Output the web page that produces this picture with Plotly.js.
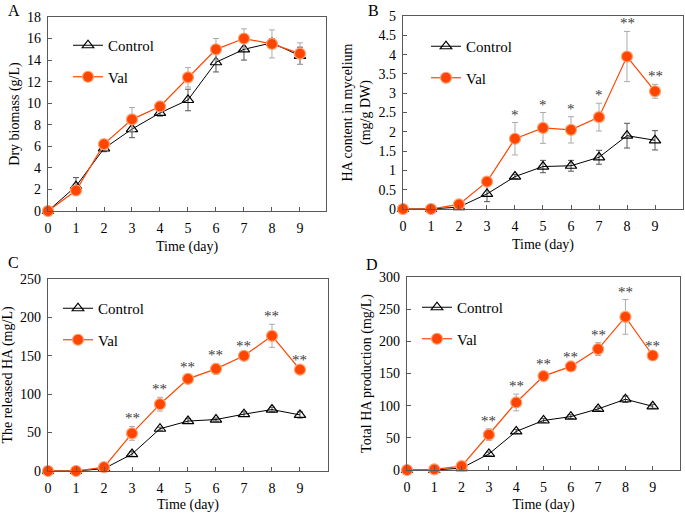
<!DOCTYPE html>
<html>
<head>
<meta charset="utf-8">
<script src="https://cdn.plot.ly/plotly-3.0.1.min.js"></script>
<style>
  html, body { margin: 0; padding: 0; background: #fff; }
  #chart { width: 685px; height: 513px; }
</style>
</head>
<body>
<div id="chart"></div>
<script>
// --- Data ---
const days = [0, 1, 2, 3, 4, 5, 6, 7, 8, 9];

// A: dry biomass (g/L)
const biomassControl = [0, 2.3, 5.8, 7.6, 9.1, 10.3, 13.8, 15.0, 15.6, 14.4];
const biomassControlErr = [0, 0.8, 0.3, 0.8, 0.3, 1.0, 0.9, 1.0, 0.4, 0.8];
const biomassVal = [0, 1.9, 6.2, 8.5, 9.7, 12.4, 15.0, 16.0, 15.5, 14.6];
const biomassValErr = [0, 0.3, 0.4, 1.1, 0.3, 0.9, 1.0, 0.9, 1.3, 1.0];

// B: HA content in mycelium (mg/g DW)
const myceliumControl = [0, 0, 0.05, 0.39, 0.84, 1.1, 1.12, 1.34, 1.9, 1.78];
const myceliumControlErr = [0, 0, 0.02, 0.2, 0.05, 0.16, 0.14, 0.18, 0.32, 0.25];
const myceliumVal = [0, 0, 0.12, 0.71, 1.82, 2.1, 2.05, 2.38, 3.95, 3.05];
const myceliumValErr = [0, 0, 0.03, 0.05, 0.42, 0.4, 0.34, 0.36, 0.65, 0.18];
const myceliumStars = ['', '', '', '', '*', '*', '*', '*', '**', '**'];

// C: released HA (mg/L)
const releasedControl = [0, 0, 3, 22, 55, 65, 67, 74, 80, 73];
const releasedControlErr = [0, 0, 1, 3, 2, 3, 2, 3, 3, 4];
const releasedVal = [0, 0, 5, 49, 87, 120, 133, 150, 176, 132];
const releasedValErr = [0, 0, 1, 9, 9, 5, 7, 3, 15, 2];
const releasedStars = ['', '', '', '**', '**', '**', '**', '**', '**', '**'];

// D: total HA production (mg/L)
const totalControl = [0, 0, 3, 25, 60, 77, 83, 95, 110, 99];
const totalControlErr = [0, 0, 1, 3, 3, 3, 3, 3, 5, 3];
const totalVal = [0, 1, 6, 55, 105, 146, 161, 188, 238, 178];
const totalValErr = [0, 0, 1, 9, 13, 6, 3, 10, 27, 2];
const totalStars = ['', '', '', '**', '**', '**', '**', '**', '**', '**'];

// --- Styles ---
const FONT = 'Liberation Serif, Times New Roman, serif';
const VAL_COLOR = '#FF4500';
const ERR_COLOR = '#ABABAB';
const AXIS_COLOR = '#595959';

function controlTrace(y, err, ax, legend) {
    return {
        x: days, y: y, xaxis: 'x' + ax, yaxis: 'y' + ax,
        name: 'Control', legend: legend, legendgroup: 'c',
        type: 'scatter', mode: 'lines+markers', cliponaxis: false,
        line: { color: '#000', width: 1 },
        marker: { symbol: 'triangle-up-open', size: 10, color: '#000', line: { width: 1.2 } },
        error_y: { type: 'data', array: err, visible: true, color: '#555', thickness: 1, width: 3 }
    };
}

function valTrace(y, err, ax, legend) {
    return {
        x: days, y: y, xaxis: 'x' + ax, yaxis: 'y' + ax,
        name: 'Val', legend: legend, legendgroup: 'v',
        type: 'scatter', mode: 'lines+markers', cliponaxis: false,
        line: { color: VAL_COLOR, width: 1.2 },
        marker: { symbol: 'circle', size: 11, color: VAL_COLOR, line: { color: '#FFA070', width: 1.2 } },
        error_y: { type: 'data', array: err, visible: true, color: ERR_COLOR, thickness: 1, width: 3 }
    };
}

function xAxis(domain, range, anchor) {
    return {
        domain: domain, range: range, anchor: anchor,
        tickvals: days, ticks: 'inside', ticklen: 4, tickcolor: AXIS_COLOR,
        ticklabelstandoff: 4,
        showline: true, linecolor: AXIS_COLOR, linewidth: 1.2, mirror: true,
        showgrid: false, zeroline: false,
        tickfont: { family: FONT, size: 14, color: '#000' },
        title: { text: 'Time (day)', font: { family: FONT, size: 14, color: '#000' }, standoff: 6 }
    };
}

function yAxis(domain, range, dtick, title, anchor) {
    return {
        domain: domain, range: range, dtick: dtick, anchor: anchor,
        ticks: 'inside', ticklen: 4, tickcolor: AXIS_COLOR,
        ticklabelstandoff: 3,
        showline: true, linecolor: AXIS_COLOR, linewidth: 1.2, mirror: true,
        showgrid: false, zeroline: false,
        tickfont: { family: FONT, size: 14, color: '#000' },
        title: { text: title, font: { family: FONT, size: 14, color: '#000' }, standoff: 4 }
    };
}

function legendBox(x, y) {
    return {
        x: x, y: y, xanchor: 'left', yanchor: 'top',
        bgcolor: 'rgba(0,0,0,0)', borderwidth: 0,
        font: { family: FONT, size: 15, color: '#000' },
        tracegroupgap: 9, itemwidth: 30
    };
}

function starNotes(stars, vals, errs, ax) {
    return stars.map((s, i) => ({
        x: days[i], y: vals[i] + errs[i], xref: 'x' + ax, yref: 'y' + ax,
        text: s, showarrow: false, yanchor: 'bottom', yshift: -2,
        font: { family: FONT, size: 15, color: '#404040' }
    })).filter(a => a.text);
}

function panelLabel(text, x, y) {
    return {
        text: text, x: x, y: y, xref: 'paper', yref: 'paper',
        xanchor: 'left', yanchor: 'top', showarrow: false,
        font: { family: FONT, size: 16, color: '#000' }
    };
}

const traces = [
    controlTrace(biomassControl, biomassControlErr, '', 'legend'),
    valTrace(biomassVal, biomassValErr, '', 'legend'),
    controlTrace(myceliumControl, myceliumControlErr, '2', 'legend2'),
    valTrace(myceliumVal, myceliumValErr, '2', 'legend2'),
    controlTrace(releasedControl, releasedControlErr, '3', 'legend3'),
    valTrace(releasedVal, releasedValErr, '3', 'legend3'),
    controlTrace(totalControl, totalControlErr, '4', 'legend4'),
    valTrace(totalVal, totalValErr, '4', 'legend4')
];

const layout = {
    width: 685, height: 513,
    margin: { l: 0, r: 0, t: 0, b: 0 },
    paper_bgcolor: '#fff', plot_bgcolor: '#fff',
    showlegend: true,
    xaxis: xAxis([0.0701, 0.4759], [0, 9.93], 'y'),
    yaxis: yAxis([0.5887, 0.9669], [0, 18], 2, 'Dry biomass (g/L)', 'x'),
    xaxis2: xAxis([0.5883, 0.9971], [0, 10], 'y2'),
    yaxis2: yAxis([0.5926, 0.9688], [0, 5], 0.5, 'HA content in mycelium<br>(mg/g DW)', 'x2'),
    xaxis3: xAxis([0.0701, 0.4788], [0, 10], 'y3'),
    yaxis3: yAxis([0.0819, 0.4561], [0, 250], 50, 'The released HA (mg/L)', 'x3'),
    xaxis4: xAxis([0.5942, 0.9927], [0, 10], 'y4'),
    yaxis4: yAxis([0.0838, 0.4600], [0, 300], 50, 'Total HA production (mg/L)', 'x4'),
    legend: legendBox(68 / 685, 1 - 29 / 513),
    legend2: legendBox(426 / 685, 1 - 30 / 513),
    legend3: legendBox(58 / 685, 1 - 292 / 513),
    legend4: legendBox(417 / 685, 1 - 291 / 513),
    annotations: [
        panelLabel('A', 6 / 685, 1),
        panelLabel('B', 366 / 685, 1),
        panelLabel('C', 6 / 685, 1 - 252 / 513),
        panelLabel('D', 364 / 685, 1 - 254 / 513),
        ...starNotes(myceliumStars, myceliumVal, myceliumValErr, '2'),
        ...starNotes(releasedStars, releasedVal, releasedValErr, '3'),
        ...starNotes(totalStars, totalVal, totalValErr, '4')
    ]
};

Plotly.newPlot('chart', traces, layout, { staticPlot: true });
</script>
</body>
</html>
